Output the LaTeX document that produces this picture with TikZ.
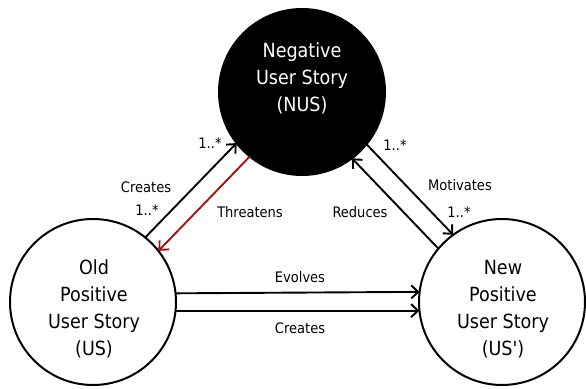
\documentclass[tikz,border=0pt]{standalone}
\usepackage{fontspec}
\setmainfont{DejaVu Sans Condensed}
\usetikzlibrary{arrows.meta}
\definecolor{threat}{RGB}{160,20,20}
\begin{document}
\begin{tikzpicture}[x=1pt,y=1pt,
  story/.style={circle, draw=black, line width=2pt, minimum size=166pt, inner sep=0pt, outer sep=0pt},
  bigtext/.style={align=center, font=\fontsize{19.5}{27}\selectfont, inner sep=0pt},
  lbl/.style={font=\fontsize{14.5}{15}\selectfont, inner sep=0pt},
  conn/.style={line width=1.9pt, -{Straight Barb[length=7pt,width=13pt,line width=1.9pt]}}
]
\useasboundingbox (0,0) rectangle (586,388);
\node[story, fill=black] (T) at (302,296) {};
\node[story] (L) at (93,86) {};
\node[story] (R) at (502,86) {};
\node[bigtext, text=white] (Tt) at (302,310) {Negative\\User Story\\(NUS)};
\node[bigtext] (Lt) at (94,79) {Old\\Positive\\User Story\\(US)};
\node[bigtext] (Rt) at (503,79) {New\\Positive\\User Story\\(US\textquotesingle)};
% connectors
\draw[conn] (L.51.9) -- (T.218.3);
\draw[conn, draw=threat] (T.231.9) -- (L.38.3);
\draw[conn] (T.-39.6) -- (R.126.8);
\draw[conn] (R.140.4) -- (T.-53.2);
\draw[conn] (L.6.15) -- (R.173.85);
\draw[conn] (L.-6.15) -- (R.186.15);
% labels
\node[lbl] (l1) at (300,111) {Evolves};
\node[lbl] (l2) at (300,60) {Creates};
\node[lbl] (l3) at (250,176) {Threatens};
\node[lbl] (l4) at (360,176) {Reduces};
\node[lbl] (l5) at (460,203) {Motivates};
\node[lbl] (l6) at (395,243) {1..*};
\node[lbl] (l7) at (459,176) {1..*};
\node[lbl] (l8) at (210,245) {1..*};
\node[lbl] (l9) at (146,201) {Creates};
\node[lbl] (l10) at (147,178) {1..*};
\end{tikzpicture}
\end{document}
